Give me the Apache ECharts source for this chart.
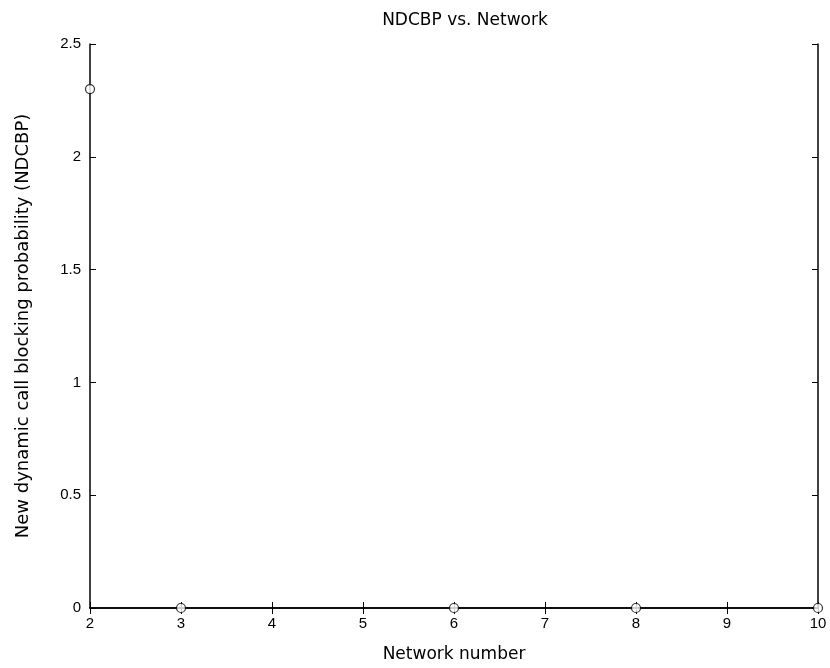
<!DOCTYPE html>
<html>
<head>
<meta charset="utf-8">
<script src="https://cdn.jsdelivr.net/npm/echarts@6/dist/echarts.min.js"></script>
<style>
  html, body { margin: 0; padding: 0; background: #fff; }
  #chart { width: 830px; height: 668px; }
</style>
</head>
<body>
<div id="chart"></div>
<script>
// network numbers and their NDCBP values
const networks = [2, 3, 6, 8, 10];
const ndcbp = [2.3, 0, 0, 0, 0];

const chart = echarts.init(document.getElementById('chart'));
const font = 'Liberation Sans, Arial, sans-serif';
const wide = 'DejaVu Sans, sans-serif';

const edgeAxis = {
  axisLine: {lineStyle: {color: '#000', width: 1.5}},
  axisTick: {inside: true, length: 6, lineStyle: {color: '#000'}},
  splitLine: {show: false}
};

chart.setOption({
  animation: false,
  title: {
    text: 'NDCBP vs. Network',
    left: 460, top: 7, textAlign: 'center',
    textStyle: {fontFamily: wide, fontSize: 17, fontWeight: 'normal', color: '#000'}
  },
  grid: {left: 90, right: 12, top: 44, bottom: 59},
  xAxis: [{
    type: 'value', min: 2, max: 10, interval: 1,
    name: 'Network number', nameLocation: 'middle', nameGap: 38,
    nameTextStyle: {fontFamily: wide, fontSize: 17, color: '#000'},
    axisLabel: {fontFamily: font, fontSize: 15, color: '#000', margin: 8},
    ...edgeAxis
  }, {
    type: 'value', position: 'top', min: 2, max: 10, interval: 1,
    axisLabel: {show: false}, ...edgeAxis
  }],
  yAxis: [{
    type: 'value', min: 0, max: 2.5, interval: 0.5,
    name: 'New dynamic call blocking probability (NDCBP)', nameLocation: 'middle', nameGap: 58,
    nameTextStyle: {fontFamily: wide, fontSize: 18, color: '#000'},
    axisLabel: {fontFamily: font, fontSize: 15, color: '#000', margin: 9},
    ...edgeAxis
  }, {
    type: 'value', position: 'right', min: 0, max: 2.5, interval: 0.5,
    axisLabel: {show: false}, ...edgeAxis
  }],
  series: [{
    type: 'scatter',
    data: networks.map((n, i) => [n, ndcbp[i]]),
    symbol: 'circle', symbolSize: 9,
    itemStyle: {color: '#fff', borderColor: '#000', borderWidth: 1.2},
    clip: false, z: 5
  }]
});
</script>
</body>
</html>
